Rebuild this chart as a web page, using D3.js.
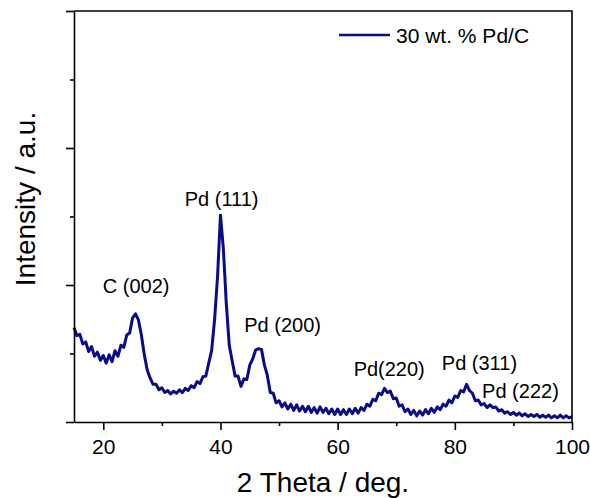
<!DOCTYPE html>
<html>
<head>
<meta charset="utf-8">
<script src="https://cdn.jsdelivr.net/npm/d3@7"></script>
<style>
  body { margin: 0; background: #fff; }
  text { font-family: "Liberation Sans", Arial, sans-serif; fill: #000; }
  .axis path, .axis line { stroke: #000; stroke-width: 1.6; }
</style>
</head>
<body>
<svg class="xrd" width="590" height="498"></svg>
<script>
// 2 theta scan, 15 to 100 deg, one reading every 0.5 deg
const thetaStart = 15;
const thetaStep = 0.5;
const intensity = [
  1.38, 1.26, 1.28, 1.14, 1.17, 1.03, 1.10, 0.96, 1.02, 0.90,
  0.97, 0.86, 0.98, 0.88, 1.04, 0.96, 1.12, 1.09, 1.27, 1.30,
  1.52, 1.58, 1.49, 1.27, 0.98, 0.76, 0.64, 0.55, 0.55, 0.47,
  0.50, 0.43, 0.46, 0.41, 0.45, 0.42, 0.47, 0.43, 0.49, 0.46,
  0.53, 0.50, 0.59, 0.56, 0.66, 0.67, 0.86, 1.05, 1.50, 2.12,
  3.02, 2.52, 1.72, 1.12, 0.89, 0.67, 0.67, 0.52, 0.63, 0.62,
  0.83, 0.92, 1.05, 1.07, 1.06, 0.83, 0.68, 0.43, 0.42, 0.28,
  0.31, 0.22, 0.28, 0.19, 0.26, 0.17, 0.25, 0.16, 0.23, 0.15,
  0.23, 0.14, 0.21, 0.13, 0.22, 0.14, 0.20, 0.12, 0.19, 0.11,
  0.19, 0.11, 0.18, 0.11, 0.19, 0.12, 0.20, 0.13, 0.21, 0.17,
  0.26, 0.23, 0.33, 0.31, 0.42, 0.40, 0.49, 0.43, 0.45, 0.34,
  0.35, 0.23, 0.25, 0.15, 0.19, 0.11, 0.17, 0.09, 0.16, 0.10,
  0.18, 0.12, 0.20, 0.14, 0.22, 0.18, 0.26, 0.23, 0.32, 0.28,
  0.38, 0.36, 0.46, 0.44, 0.55, 0.46, 0.42, 0.31, 0.32, 0.25,
  0.27, 0.21, 0.25, 0.21, 0.22, 0.16, 0.18, 0.13, 0.15, 0.11,
  0.14, 0.10, 0.13, 0.09, 0.12, 0.08, 0.11, 0.08, 0.11, 0.07,
  0.10, 0.07, 0.10, 0.06, 0.09, 0.06, 0.10, 0.06, 0.09, 0.06,
  0.08
];

const xMajorTicks = [20, 40, 60, 80, 100];
const xMinorTicks = [30, 50, 70, 90];
const yMajorTicks = [0, 2, 4, 6];
const yMinorTicks = [1, 3, 5];

// reflection labels: [text, 2theta, intensity where the baseline sits]
const peakLabels = [
  ['C (002)', 25.6, 1.88],
  ['Pd (111)', 40.2, 3.15],
  ['Pd (200)', 50.6, 1.31],
  ['Pd(220)', 68.8, 0.67],
  ['Pd (311)', 84.2, 0.76],
  ['Pd (222)', 91.2, 0.35]
];
const seriesName = '30 wt. % Pd/C';

const margin = {left: 74, top: 11, right: 18, bottom: 76};
const width = 590 - margin.left - margin.right;
const height = 498 - margin.top - margin.bottom;
const lineColor = '#0a0a8c';

const svg = d3.select('svg.xrd');
const g = svg.append('g')
    .attr('transform', `translate(${margin.left},${margin.top})`);

const x = d3.scaleLinear().domain([15, 100]).range([0, width]);
const y = d3.scaleLinear().domain([0, 6]).range([height, 0]);

const data = intensity.map((v, i) => ({theta: thetaStart + i * thetaStep, v: v}));

// trace
g.append('path')
    .datum(data)
    .attr('fill', 'none')
    .attr('stroke', lineColor)
    .attr('stroke-width', 3)
    .attr('stroke-linejoin', 'round')
    .attr('d', d3.line().x(d => x(d.theta)).y(d => y(d.v)));

// frame top and right
g.append('path')
    .attr('d', `M0,0H${width}V${height}`)
    .attr('fill', 'none')
    .attr('stroke', '#000')
    .attr('stroke-width', 1.6);

// x axis
g.append('g')
    .attr('class', 'axis')
    .attr('transform', `translate(0,${height})`)
    .call(d3.axisBottom(x).tickValues(xMajorTicks).tickSize(8).tickPadding(9).tickSizeOuter(0))
    .call(a => a.selectAll('text').style('font-size', '21px').style('font-family', '"Liberation Sans", Arial, sans-serif'));
g.append('g')
    .attr('class', 'axis')
    .attr('transform', `translate(0,${height})`)
    .call(d3.axisBottom(x).tickValues(xMinorTicks).tickSize(4).tickFormat('').tickSizeOuter(0))
    .call(a => a.select('.domain').remove());

// y axis, no labels
g.append('g')
    .attr('class', 'axis')
    .call(d3.axisLeft(y).tickValues(yMajorTicks).tickSize(8).tickFormat('').tickSizeOuter(0));
g.append('g')
    .attr('class', 'axis')
    .call(d3.axisLeft(y).tickValues(yMinorTicks).tickSize(4).tickFormat('').tickSizeOuter(0))
    .call(a => a.select('.domain').remove());

// axis titles
svg.append('text')
    .attr('x', margin.left + width / 2)
    .attr('y', 492)
    .attr('text-anchor', 'middle')
    .style('font-size', '28px')
    .text('2 Theta / deg.');

svg.append('text')
    .attr('transform', 'translate(35,199)rotate(-90)')
    .attr('text-anchor', 'middle')
    .style('font-size', '28px')
    .text('Intensity / a.u.');

// peak labels
g.selectAll('text.peak')
    .data(peakLabels)
    .join('text')
    .attr('class', 'peak')
    .attr('x', d => x(d[1]))
    .attr('y', d => y(d[2]))
    .attr('text-anchor', 'middle')
    .style('font-size', '20px')
    .text(d => d[0]);

// legend
const legend = svg.append('g').attr('transform', 'translate(339,35)');
legend.append('line')
    .attr('x1', 0).attr('x2', 51)
    .attr('stroke', lineColor)
    .attr('stroke-width', 2.6);
legend.append('text')
    .attr('x', 57)
    .attr('y', 8)
    .style('font-size', '21px')
    .text(seriesName);
</script>
</body>
</html>
